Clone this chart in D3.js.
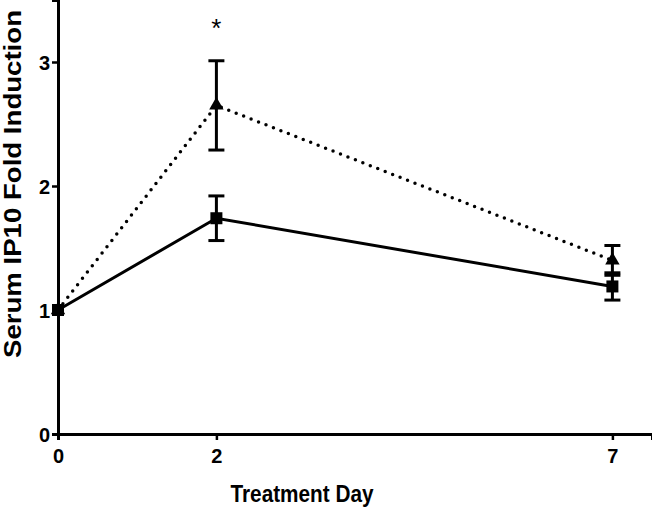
<!DOCTYPE html>
<html><head><meta charset="utf-8">
<script src="https://cdn.jsdelivr.net/npm/d3@7"></script>
<style>body{margin:0;background:#fff}svg{display:block}text{font-family:"Liberation Sans",Arial,sans-serif;font-weight:bold;fill:#000}</style>
</head><body>
<script>
const days = [0, 2, 7];
const xTicks = [0, 2, 7];
const yTicks = [0, 1, 2, 3];
const triMean = [1.0, 2.65, 1.40];
const triLow = [1.0, 2.29, 1.28];
const triHigh = [1.0, 3.01, 1.52];
const sqMean = [1.0, 1.74, 1.19];
const sqLow = [1.0, 1.56, 1.08];
const sqHigh = [1.0, 1.92, 1.30];
const xLabel = "Treatment Day";
const yLabel = "Serum IP10 Fold Induction";

const W = 652, H = 507;
const svg = d3.select("body").append("svg").attr("width", W).attr("height", H);
const x = d3.scaleLinear().domain([0, 7.5]).range([58, 652]);
const y = d3.scaleLinear().domain([0, 3.5]).range([434, 0]);

// axes
const xa = svg.append("g").attr("transform", `translate(0,${y(0)})`)
  .call(d3.axisBottom(x).tickValues(xTicks).tickSize(6).tickPadding(6).tickFormat(d3.format("d")));
const ya = svg.append("g").attr("transform", `translate(${x(0)},0)`)
  .call(d3.axisLeft(y).tickValues(yTicks).tickSize(6).tickPadding(2).tickFormat(d3.format("d")));
[xa, ya].forEach(a => {
  a.attr("font-size", null).attr("font-family", null);
  a.select(".domain").attr("stroke", "#000").attr("stroke-width", 3);
  a.selectAll(".tick line").attr("stroke", "#000").attr("stroke-width", 2.5);
  a.selectAll(".tick text").style("font-size", "20px");
});
xa.selectAll(".tick text").attr("dy", "0.85em");
ya.selectAll(".tick text").attr("dy", "0.36em");

// lines
const line = d3.line().x((d, i) => x(days[i])).y(d => y(d));
svg.append("path").datum(triMean).attr("d", line).attr("fill", "none")
  .attr("stroke", "#000").attr("stroke-width", 3.5).attr("stroke-linecap", "round")
  .attr("stroke-dasharray", "0,8");
svg.append("path").datum(sqMean).attr("d", line).attr("fill", "none")
  .attr("stroke", "#000").attr("stroke-width", 3);

// error bars
function errBars(lo, hi) {
  const g = svg.append("g").attr("stroke", "#000").attr("stroke-width", 3);
  days.forEach((d, i) => {
    if (hi[i] - lo[i] < 0.01) return;
    g.append("line").attr("x1", x(d)).attr("x2", x(d)).attr("y1", y(lo[i])).attr("y2", y(hi[i]));
    [lo[i], hi[i]].forEach(v => g.append("line").attr("x1", x(d) - 8).attr("x2", x(d) + 8).attr("y1", y(v)).attr("y2", y(v)));
  });
}
errBars(triLow, triHigh);
errBars(sqLow, sqHigh);

// markers
svg.append("g").selectAll("path").data(triMean).join("path")
  .attr("transform", (d, i) => `translate(${x(days[i])},${y(d)})`)
  .attr("d", d3.symbol(d3.symbolTriangle, 90)).attr("fill", "#000");
svg.append("g").selectAll("rect").data(sqMean).join("rect")
  .attr("x", (d, i) => x(days[i]) - 6).attr("y", d => y(d) - 6)
  .attr("width", 12).attr("height", 12).attr("fill", "#000");

// asterisk
svg.append("text").attr("x", x(2)).attr("y", 37).attr("text-anchor", "middle")
  .style("font-size", "26px").style("font-weight", "normal").text("*");

// axis labels
svg.append("text").attr("x", 302).attr("y", 502).attr("text-anchor", "middle")
  .style("font-size", "24px").attr("textLength", 143).attr("lengthAdjust", "spacingAndGlyphs").text(xLabel);
svg.append("text").attr("transform", "translate(21,184) rotate(-90)").attr("text-anchor", "middle")
  .style("font-size", "24px").attr("textLength", 348).attr("lengthAdjust", "spacingAndGlyphs").text(yLabel);
</script>
</body></html>
